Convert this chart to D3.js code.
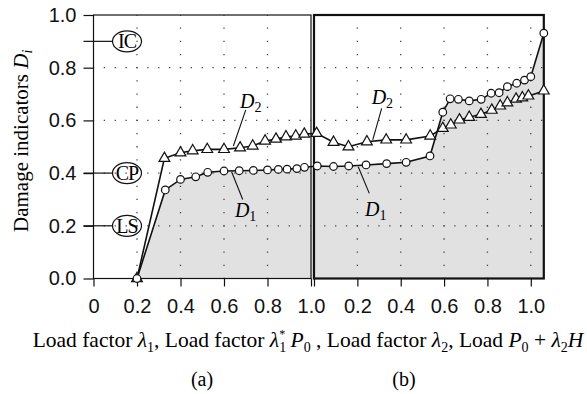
<!DOCTYPE html>
<html>
<head>
<meta charset="UTF-8">
<script src="https://d3js.org/d3.v7.min.js"></script>
<style>
  body { margin: 0; background: #fff; }
  svg { font-family: 'Liberation Serif', 'Times New Roman', serif; }
  .axis text { font-size: 20px; fill: #111; }
  .axis line { stroke: #111; stroke-width: 1.2; }
  .grid line { stroke: #444; stroke-width: 1.3; }
</style>
</head>
<body>
<div id="chart"></div>
<script>
  // panel (a): load factor lambda1
  const d1aX = [0.2, 0.33, 0.40, 0.47, 0.525, 0.60, 0.67, 0.735, 0.80, 0.85, 0.89, 0.935, 0.97];
  const d1aY = [0.0, 0.336, 0.376, 0.386, 0.403, 0.408, 0.409, 0.410, 0.412, 0.414, 0.415, 0.417, 0.422];
  const d2aX = [0.2, 0.326, 0.40, 0.456, 0.523, 0.60, 0.674, 0.732, 0.789, 0.839, 0.885, 0.93, 0.969];
  const d2aY = [0.0, 0.456, 0.477, 0.485, 0.490, 0.490, 0.496, 0.503, 0.522, 0.529, 0.538, 0.541, 0.548];

  // panel (b): load factor lambda2
  const d1bX = [0.015, 0.09, 0.16, 0.24, 0.335, 0.425, 0.535, 0.594, 0.628, 0.666, 0.716, 0.771, 0.817, 0.854, 0.892, 0.935, 0.971, 1.0, 1.06];
  const d1bY = [0.427, 0.425, 0.427, 0.431, 0.436, 0.441, 0.465, 0.631, 0.682, 0.680, 0.674, 0.680, 0.703, 0.705, 0.728, 0.741, 0.753, 0.766, 0.931];
  const d2bX = [0.012, 0.09, 0.159, 0.244, 0.333, 0.425, 0.536, 0.594, 0.631, 0.671, 0.716, 0.770, 0.82, 0.859, 0.892, 0.932, 0.961, 0.989, 1.06];
  const d2bY = [0.551, 0.517, 0.500, 0.519, 0.526, 0.526, 0.541, 0.570, 0.583, 0.602, 0.612, 0.623, 0.639, 0.655, 0.667, 0.681, 0.686, 0.693, 0.712];

  const yTicks = [0, 0.2, 0.4, 0.6, 0.8, 1.0];
  const xTicks = [0, 0.2, 0.4, 0.6, 0.8, 1.0];
  const gridVals = [0.2, 0.4, 0.6, 0.8];
  const limitNames = ["LS", "CP", "IC"];
  const limitVals = [0.2, 0.4, 0.9];

  const width = 587, height = 394;
  const svg = d3.select("#chart").append("svg")
    .attr("width", width).attr("height", height);

  const xa = d3.scaleLinear().domain([0, 1]).range([93.5, 311]);
  const xb = d3.scaleLinear().domain([0, 1.06]).range([314, 543.8]);
  const y = d3.scaleLinear().domain([0, 1]).range([278.5, 15]);

  const pts = (ax, ay, bx, by) =>
    ax.map((v, i) => [xa(v), y(ay[i])]).concat(bx.map((v, i) => [xb(v), y(by[i])]));
  const d1 = pts(d1aX, d1aY, d1bX, d1bY);
  const d2 = pts(d2aX, d2aY, d2bX, d2bY);

  // gray area under D1
  svg.append("path")
    .attr("d", d3.area().x(d => d[0]).y0(y(0)).y1(d => d[1])(d1))
    .attr("fill", "#e1e1e1");

  // dotted grid, one dot every 0.05
  function grid(x, xv) {
    const g = svg.append("g").attr("class", "grid");
    const sx = x(0.05) - x(0), sy = y(0) - y(0.05);
    g.selectAll(".h").data(gridVals).enter().append("line")
      .attr("x1", x(0)).attr("x2", x.range()[1])
      .attr("y1", d => y(d)).attr("y2", d => y(d))
      .attr("stroke-dasharray", `1.3 ${sx - 1.3}`).attr("stroke-dashoffset", 0.65);
    g.selectAll(".v").data(xv).enter().append("line")
      .attr("x1", d => x(d)).attr("x2", d => x(d))
      .attr("y1", y(0)).attr("y2", y(1))
      .attr("stroke-dasharray", `1.3 ${sy - 1.3}`).attr("stroke-dashoffset", 0.65);
  }
  grid(xa, gridVals);
  grid(xb, [0.2, 0.4, 0.6, 0.8, 1.0]);

  // axes
  const yAxis = svg.append("g").attr("class", "axis")
    .attr("transform", `translate(${xa(0)},0)`)
    .call(d3.axisLeft(y).tickValues(yTicks).tickSize(10).tickPadding(7).tickFormat(d3.format(".1f")));
  yAxis.select(".domain").remove();

  const axA = svg.append("g").attr("class", "axis")
    .attr("transform", `translate(0,${y(0)})`)
    .call(d3.axisBottom(xa).tickValues(xTicks).tickSize(8).tickPadding(12)
      .tickFormat(d => d === 0 ? "0" : d3.format(".1f")(d)));
  axA.select(".domain").remove();
  const axB = svg.append("g").attr("class", "axis")
    .attr("transform", `translate(0,${y(0)})`)
    .call(d3.axisBottom(xb).tickValues(xTicks).tickSize(8).tickPadding(12)
      .tickFormat(d => d === 0 ? "" : d3.format(".1f")(d)));
  axB.select(".domain").remove();

  // panel frames
  svg.append("rect")
    .attr("x", xa(0)).attr("y", y(1))
    .attr("width", xa(1) - xa(0)).attr("height", y(0) - y(1))
    .attr("fill", "none").attr("stroke", "#111").attr("stroke-width", 1.2);
  svg.append("rect")
    .attr("x", xb(0)).attr("y", y(1))
    .attr("width", xb(1.06) - xb(0)).attr("height", y(0) - y(1))
    .attr("fill", "none").attr("stroke", "#111").attr("stroke-width", 2.2);

  // limit states
  const lim = svg.append("g");
  lim.selectAll("line").data(limitVals).enter().append("line")
    .attr("x1", xa(0) - 10).attr("x2", 112.5)
    .attr("y1", d => y(d)).attr("y2", d => y(d))
    .attr("stroke", "#111").attr("stroke-width", 1.2);
  lim.selectAll("ellipse").data(limitVals).enter().append("ellipse")
    .attr("cx", 127).attr("cy", d => y(d)).attr("rx", 14.5).attr("ry", 10.5)
    .attr("fill", "none").attr("stroke", "#111").attr("stroke-width", 1.2);
  lim.selectAll("text").data(limitNames).enter().append("text")
    .attr("x", 127).attr("y", (d, i) => y(limitVals[i]) + 7)
    .attr("text-anchor", "middle").style("font-size", "20px")
    .style("letter-spacing", "-1px")
    .text(d => d);

  // lines and markers
  const line = d3.line();
  svg.append("path").attr("d", line(d2)).attr("fill", "none")
    .attr("stroke", "#111").attr("stroke-width", 1.6);
  svg.append("path").attr("d", line(d1)).attr("fill", "none")
    .attr("stroke", "#111").attr("stroke-width", 1.6);

  svg.selectAll(".tri").data(d2).enter().append("path")
    .attr("class", "tri")
    .attr("d", d3.symbol(d3.symbolTriangle, 50))
    .attr("transform", d => `translate(${d[0]},${d[1]})`)
    .attr("fill", "#fff").attr("stroke", "#111").attr("stroke-width", 1.2);
  svg.selectAll(".circ").data(d1).enter().append("circle")
    .attr("class", "circ")
    .attr("cx", d => d[0]).attr("cy", d => d[1]).attr("r", 3.8)
    .attr("fill", "#fff").attr("stroke", "#111").attr("stroke-width", 1.2);

  // D labels with leader lines
  const notes = [
    { x: xa, tx: 0.674, ty: 0.648, sub: "2", lx: [0.700, 0.643], ly: [0.640, 0.503] },
    { x: xa, tx: 0.650, ty: 0.233, sub: "1", lx: [0.635, 0.686], ly: [0.405, 0.300] },
    { x: xb, tx: 0.266, ty: 0.662, sub: "2", lx: [0.312, 0.271], ly: [0.646, 0.526] },
    { x: xb, tx: 0.235, ty: 0.236, sub: "1", lx: [0.204, 0.255], ly: [0.424, 0.323] }
  ];
  notes.forEach(n => {
    svg.append("line")
      .attr("x1", n.x(n.lx[0])).attr("y1", y(n.ly[0]))
      .attr("x2", n.x(n.lx[1])).attr("y2", y(n.ly[1]))
      .attr("stroke", "#111").attr("stroke-width", 1.1);
    const t = svg.append("text").attr("x", n.x(n.tx)).attr("y", y(n.ty))
      .style("font-size", "20px");
    t.append("tspan").style("font-style", "italic").text("D");
    t.append("tspan").attr("dy", 4).style("font-size", "14px").text(n.sub);
  });

  // y axis title
  const yt = svg.append("text")
    .attr("transform", "translate(28,232) rotate(-90)")
    .style("font-size", "21px");
  yt.append("tspan").text("Damage indicators ");
  yt.append("tspan").style("font-style", "italic").text("D");
  yt.append("tspan").attr("dy", 4).style("font-style", "italic").style("font-size", "14px").text("i");

  // x axis title with sub/superscripts
  const parts = [
    ["Load factor ", "n"], ["λ", "i"], ["1", "sub"], [", Load factor ", "n"],
    ["λ", "i"], ["1", "sub"], ["*", "supback"], [" ", "n"], ["P", "i"], ["0", "sub"],
    [" , Load factor ", "n"], ["λ", "i"], ["2", "sub"], [", Load ", "n"],
    ["P", "i"], ["0", "sub"], [" + ", "n"], ["λ", "i"], ["2", "sub"], ["H", "i"]
  ];
  const xt = svg.append("text").attr("x", 308).attr("y", 347)
    .attr("text-anchor", "middle").style("font-size", "21.5px");
  let shift = 0;
  parts.forEach(([s, k]) => {
    const sp = xt.append("tspan").text(s);
    let target = 0;
    if (k === "i") sp.style("font-style", "italic");
    if (k === "sub") { target = 5; sp.style("font-size", "14px"); }
    if (k === "supback") { target = -9; sp.style("font-size", "12px").attr("dx", -7); }
    if (target !== shift) { sp.attr("dy", target - shift); shift = target; }
  });

  svg.append("text").attr("x", 202).attr("y", 386).attr("text-anchor", "middle")
    .style("font-size", "20px").text("(a)");
  svg.append("text").attr("x", 404).attr("y", 386).attr("text-anchor", "middle")
    .style("font-size", "20px").text("(b)");
</script>
</body>
</html>
